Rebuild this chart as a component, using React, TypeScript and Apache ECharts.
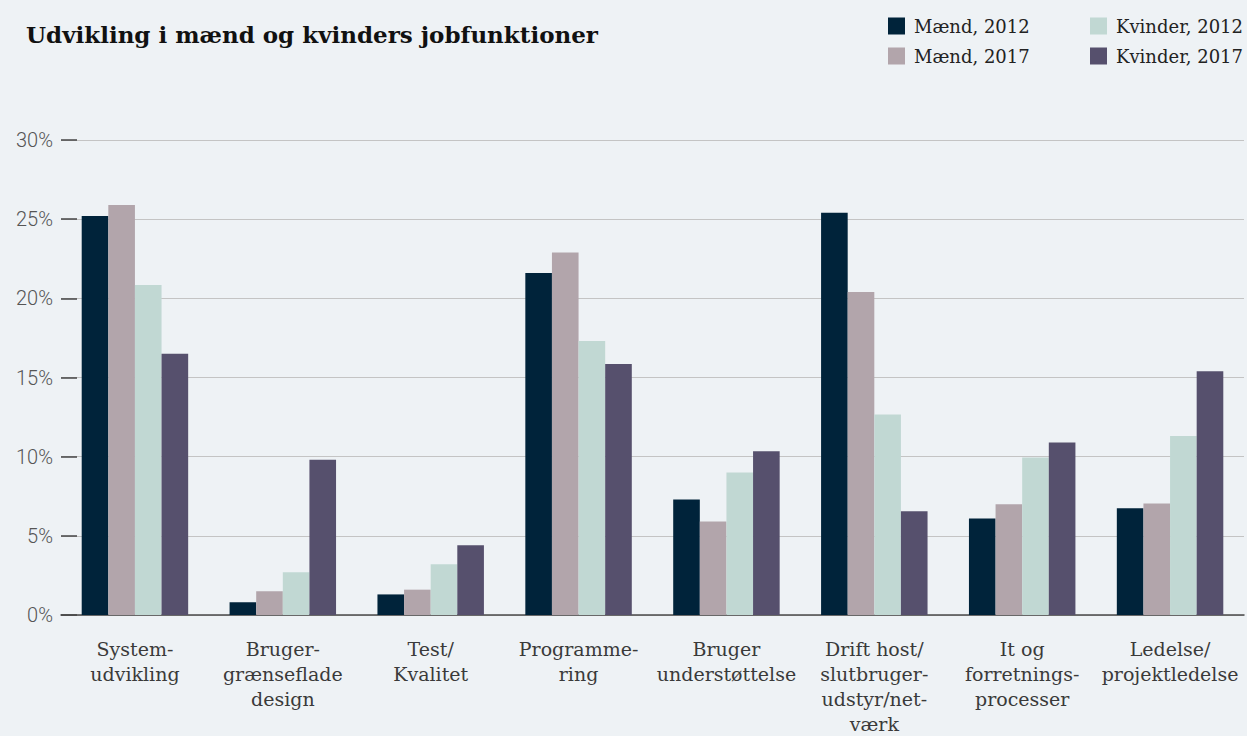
import React, { useEffect, useRef } from "react";
import * as echarts from "echarts";

const categories = [
  "System-\nudvikling",
  "Bruger-\ngrænseflade\ndesign",
  "Test/\nKvalitet",
  "Programme-\nring",
  "Bruger\nunderstøttelse",
  "Drift host/\nslutbruger-\nudstyr/net-\nværk",
  "It og\nforretnings-\nprocesser",
  "Ledelse/\nprojektledelse",
];

const maend2012 = [25.2, 0.8, 1.3, 21.6, 7.3, 25.4, 6.1, 6.75];
const maend2017 = [25.9, 1.5, 1.6, 22.9, 5.9, 20.4, 7.0, 7.05];
const kvinder2012 = [20.85, 2.7, 3.2, 17.3, 9.0, 12.67, 9.95, 11.3];
const kvinder2017 = [16.5, 9.8, 4.4, 15.85, 10.35, 6.55, 10.9, 15.4];

const seriesNames = ["Mænd, 2012", "Mænd, 2017", "Kvinder, 2012", "Kvinder, 2017"];
const colors = ["#00233a", "#b2a5ab", "#c1d8d3", "#56506d"];

const serif = "'DejaVu Serif', serif";

export default function App() {
  const ref = useRef<HTMLDivElement>(null);
  useEffect(() => {
    document.body.style.margin = "0";
    document.body.style.background = "#eef2f5";
    const chart = echarts.init(ref.current!, null, { renderer: "svg" });
    const legendCommon = {
      orient: "vertical",
      top: 12,
      itemWidth: 17,
      itemHeight: 17,
      itemGap: 12,
      icon: "rect",
      textStyle: {
        fontFamily: serif,
        fontSize: 18,
        color: "#222",
        padding: [0, 0, 0, 4],
      },
    };
    chart.setOption({
      animation: false,
      backgroundColor: "#eef2f5",
      color: colors,
      title: {
        text: "Udvikling i mænd og kvinders jobfunktioner",
        left: 21,
        top: 18,
        textStyle: {
          fontFamily: serif,
          fontSize: 23,
          fontWeight: "bold",
          color: "#111",
        },
      },
      legend: [
        { ...legendCommon, left: 883, data: [seriesNames[0], seriesNames[1]] },
        { ...legendCommon, left: 1085, data: [seriesNames[2], seriesNames[3]] },
      ],
      grid: { left: 61, right: 3, top: 140, bottom: 115, containLabel: false },
      xAxis: {
        type: "category",
        data: categories,
        axisLine: { lineStyle: { color: "#4a4a4a", width: 1.5 } },
        axisTick: { alignWithLabel: true, length: 6, lineStyle: { color: "#666" } },
        axisLabel: {
          interval: 0,
          margin: 21,
          fontFamily: serif,
          fontSize: 19,
          lineHeight: 25,
          color: "#3a3a3a",
        },
      },
      yAxis: {
        type: "value",
        min: 0,
        max: 30,
        interval: 5,
        axisLine: { show: false },
        axisTick: { show: true, inside: true, length: 16, lineStyle: { color: "#444", width: 1.5 } },
        splitLine: { lineStyle: { color: "#c4c4c4", width: 1.2 } },
        axisLabel: {
          formatter: "{value}%",
          margin: 8,
          fontFamily: "Roboto",
          fontWeight: 300,
          fontSize: 20,
          color: "#555",
        },
      },
      series: [maend2012, maend2017, kvinder2012, kvinder2017].map((d, i) => ({
        name: seriesNames[i],
        type: "bar",
        data: d,
        barGap: "0%",
        barCategoryGap: "28%",
        itemStyle: { color: colors[i] },
      })),
    });
    return () => chart.dispose();
  }, []);
  return (
    <div
      ref={ref}
      style={{ position: "absolute", left: 0, top: 0, width: 1247, height: 736, background: "#eef2f5" }}
    />
  );
}
